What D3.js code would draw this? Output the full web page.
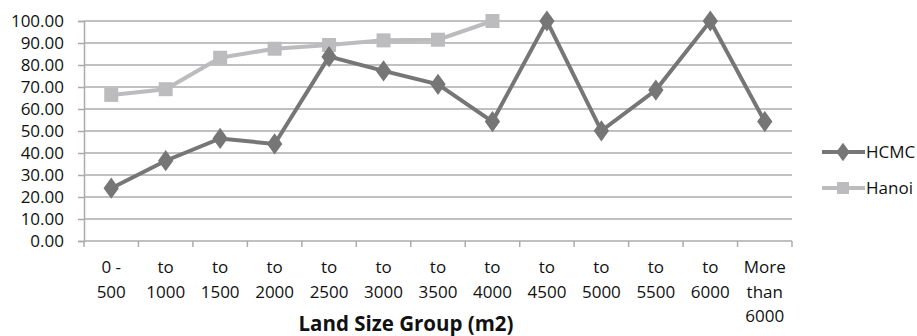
<!DOCTYPE html>
<html><head><meta charset="utf-8">
<script src="https://cdn.jsdelivr.net/npm/d3@7"></script>
<style>body{margin:0;background:#fff}svg{display:block}text{font-family:"Open Sans",sans-serif}</style>
</head><body><svg id="c" width="917" height="336"></svg>
<script>
const categories = [["0 -","500"],["to","1000"],["to","1500"],["to","2000"],["to","2500"],["to","3000"],["to","3500"],["to","4000"],["to","4500"],["to","5000"],["to","5500"],["to","6000"],["More","than","6000"]];
const hcmc = [24.0, 36.5, 46.6, 44.1, 83.8, 77.3, 71.2, 54.3, 100, 50.1, 68.6, 100, 54.3];
const hanoi = [66.4, 69.0, 83.3, 87.4, 89.1, 91.2, 91.5, 100];
const yTicks = [0,10,20,30,40,50,60,70,80,90,100];
const seriesNames = ["HCMC","Hanoi"];
const xTitle = "Land Size Group (m2)";

const svg = d3.select("#c");
const L = 84, R = 792, T = 21, B = 241;
const x = d3.scaleBand().domain(d3.range(categories.length)).range([L, R]);
const y = d3.scaleLinear().domain([0,100]).range([B, T]);
const grid = "#ababab";
const FS = 17;
const FF = "'Open Sans',sans-serif";

svg.append("g").selectAll("line").data(yTicks.filter(d=>d>0)).join("line")
  .attr("x1", L).attr("x2", R).attr("y1", d=>y(d)).attr("y2", d=>y(d))
  .attr("stroke", grid).attr("stroke-width", 1.5);

const ya = svg.append("g").attr("transform",`translate(${L},0)`)
  .call(d3.axisLeft(y).tickValues(yTicks).tickFormat(d=>d.toFixed(2)).tickSize(6).tickPadding(14));
ya.attr("font-size",FS).attr("font-family",FF);
ya.select(".domain").attr("stroke", grid).attr("stroke-width",1.5);
ya.selectAll(".tick line").attr("stroke", grid).attr("stroke-width",1.5);
ya.selectAll("text").attr("font-size",FS).attr("fill","#111").attr("font-family",FF);

const xa = svg.append("g").attr("transform",`translate(0,${B})`);
xa.append("line").attr("x1",L).attr("x2",R).attr("stroke",grid).attr("stroke-width",1.5);
xa.selectAll("line.t").data(d3.range(categories.length+1)).join("line").attr("class","t")
  .attr("x1", i=> i<categories.length ? x(i) : R).attr("x2", i=> i<categories.length ? x(i) : R)
  .attr("y1",0).attr("y2",6).attr("stroke",grid).attr("stroke-width",1.5);
const lab = xa.selectAll("text.c").data(categories).join("text").attr("class","c")
  .attr("x",(d,i)=>x(i)+x.bandwidth()/2).attr("y",32)
  .attr("text-anchor","middle").attr("font-size",FS).attr("fill","#111");
lab.selectAll("tspan").data(d=>d).join("tspan")
  .attr("x", function(){return this.parentNode.getAttribute("x");})
  .attr("dy",(d,i)=> i===0 ? 0 : 24.5).text(d=>d);

svg.append("text").attr("x",406).attr("y",331).attr("text-anchor","middle")
  .attr("font-size",20.5).attr("font-weight","bold").attr("fill","#111").text(xTitle);

const cx = i => x(i) + x.bandwidth()/2;
const line = d3.line().x((d,i)=>cx(i)).y(d=>y(d));
const cH = "#767676", cN = "#bcbcbe";

svg.append("path").datum(hanoi).attr("d",line).attr("fill","none").attr("stroke",cN).attr("stroke-width",4);
svg.append("g").selectAll("rect").data(hanoi).join("rect")
  .attr("x",(d,i)=>cx(i)-7).attr("y",d=>y(d)-7).attr("width",14).attr("height",14).attr("fill",cN);

svg.append("path").datum(hcmc).attr("d",line).attr("fill","none").attr("stroke",cH).attr("stroke-width",4);
const dia = d3.symbol().type(d3.symbolDiamond).size(130);
svg.append("g").selectAll("path").data(hcmc).join("path")
  .attr("d", dia).attr("transform",(d,i)=>`translate(${cx(i)},${y(d)}) scale(1.25,1)`).attr("fill",cH);

const lg = [{n:seriesNames[0],c:cH,y:152,t:"d"},{n:seriesNames[1],c:cN,y:188,t:"s"}];
lg.forEach(o=>{
  svg.append("line").attr("x1",822).attr("x2",865).attr("y1",o.y).attr("y2",o.y).attr("stroke",o.c).attr("stroke-width",4);
  if(o.t==="d") svg.append("path").attr("d",d3.symbol().type(d3.symbolDiamond).size(100)()).attr("transform",`translate(843,${o.y}) scale(1.25,1)`).attr("fill",o.c);
  else svg.append("rect").attr("x",837).attr("y",o.y-6).attr("width",12).attr("height",12).attr("fill",o.c);
  svg.append("text").attr("x",866).attr("y",o.y+6).attr("font-size",FS).attr("fill","#111").text(o.n);
});
</script></body></html>
